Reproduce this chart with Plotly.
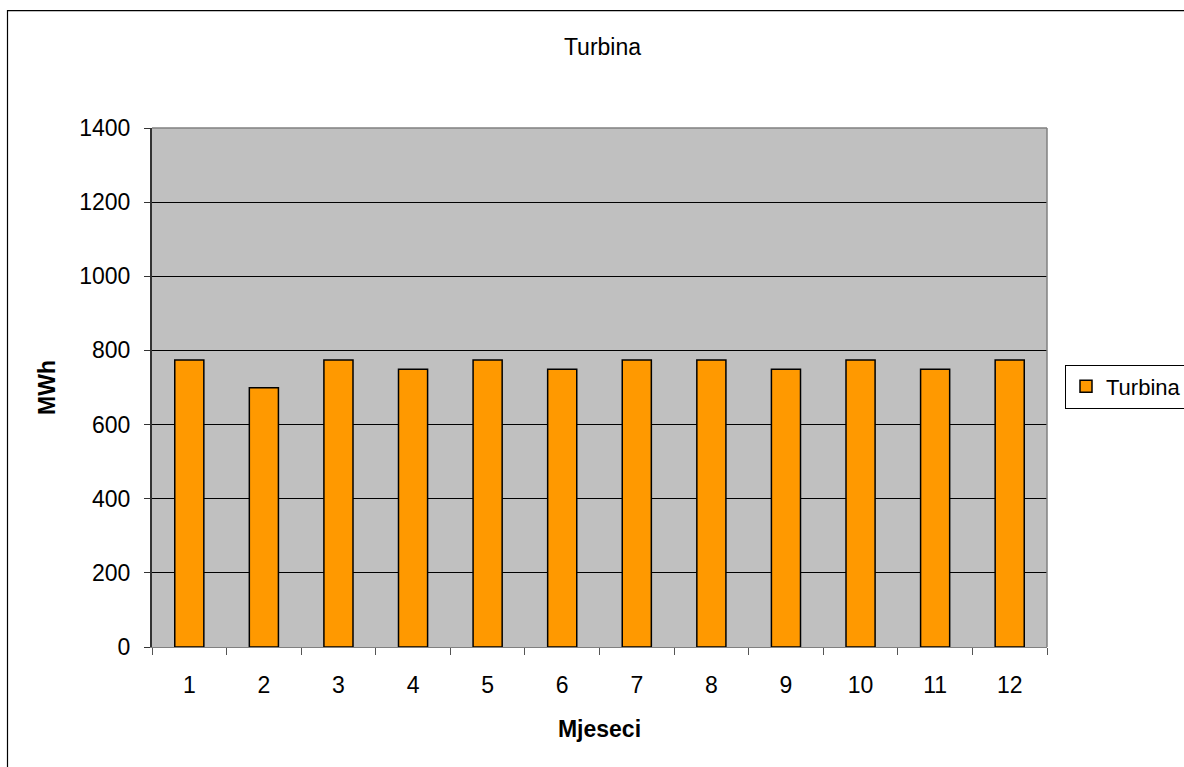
import plotly.graph_objects as go

months = ["1", "2", "3", "4", "5", "6", "7", "8", "9", "10", "11", "12"]
turbina = [774, 699, 774, 749, 774, 749, 774, 774, 749, 774, 749, 774]
y_ticks = [0, 200, 400, 600, 800, 1000, 1200, 1400]

FONT = "Liberation Sans, Arial, sans-serif"
FS = 23

W, H = 1184, 767
L, T, R, B = 152, 128, 137, 120

fig = go.Figure()
fig.add_trace(go.Bar(
    x=months, y=turbina, name="Turbina",
    marker=dict(color="#FF9900", line=dict(color="black", width=1.5)),
))

fig.update_layout(
    width=W, height=H,
    margin=dict(l=L, r=R, t=T, b=B, autoexpand=False),
    paper_bgcolor="white",
    plot_bgcolor="#C0C0C0",
    font=dict(family=FONT, size=FS, color="black"),
    bargap=0.61,
    showlegend=True,
    title=dict(text="Turbina", x=602.5 / W, xanchor="center",
               y=1 - 47 / H, yanchor="middle", font=dict(size=FS)),
    legend=dict(xref="container", yref="container",
                x=1065 / W, xanchor="left", y=1 - 386.5 / H, yanchor="middle",
                bordercolor="black", borderwidth=1, bgcolor="white",
                font=dict(size=22)),
    xaxis=dict(type="category", tickson="boundaries", ticks="outside",
               ticklen=7, tickcolor="#555555", showline=True, linecolor="#808080",
               linewidth=1, showgrid=False, mirror=False,
               ticklabelstandoff=17,
               title=dict(text="<b>Mjeseci</b>", standoff=24, font=dict(size=FS))),
    yaxis=dict(range=[0, 1400], tickvals=y_ticks, ticks="outside", ticklen=6,
               tickcolor="#333333", showline=True, linecolor="#333333", linewidth=2,
               showgrid=True, gridcolor="black", gridwidth=1, zeroline=False,
               ticklabelstandoff=9,
               title=dict(text="<b>MWh</b>", standoff=17, font=dict(size=FS))),
)

# top and right plot-area border (gray)
fig.add_shape(type="line", xref="paper", yref="paper", x0=0, x1=1, y0=1, y1=1,
              line=dict(color="#808080", width=1.5))
fig.add_shape(type="line", xref="paper", yref="paper", x0=1, x1=1, y0=0, y1=1,
              line=dict(color="#808080", width=1.5))
# outer chart border
fig.add_shape(type="rect", xref="paper", yref="paper",
              x0=(7.5 - L) / 895, x1=1.5, y0=-0.5, y1=(519 + T - 10.7) / 519,
              line=dict(color="black", width=1.2), fillcolor="rgba(0,0,0,0)")

fig.write_html(
    "out.html",
    config={"displayModeBar": False},
    post_script="document.body.style.margin='0px';document.body.style.overflow='hidden';",
)
